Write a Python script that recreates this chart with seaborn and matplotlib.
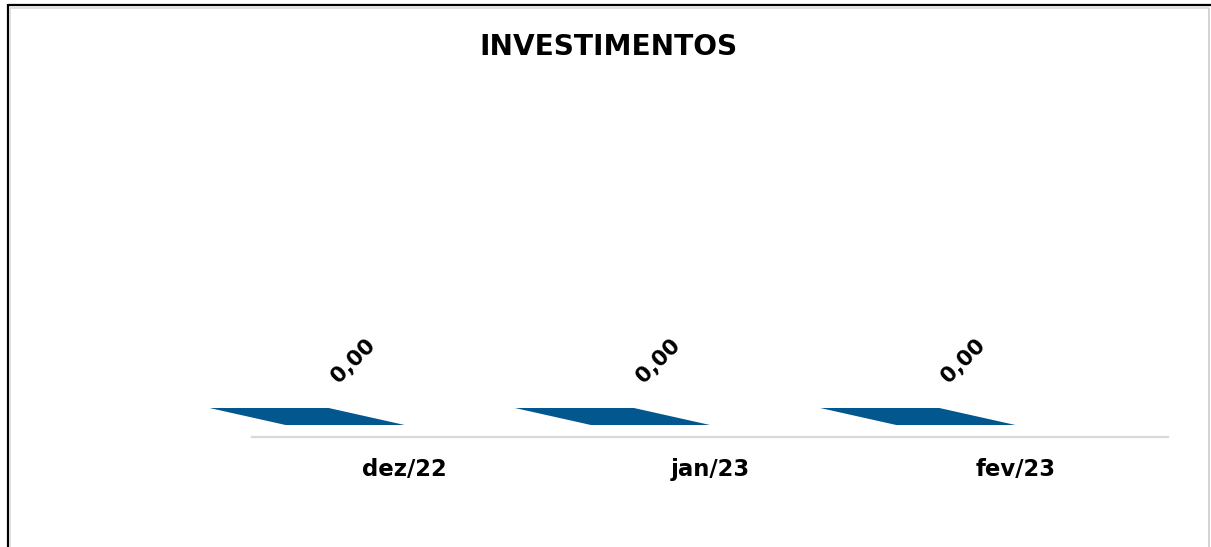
import matplotlib
matplotlib.use("Agg")
import matplotlib.pyplot as plt
import seaborn as sns
import numpy as np
from matplotlib.patches import Polygon
from matplotlib.lines import Line2D

# ---- data ----
title = "INVESTIMENTOS"
months = ["dez/22", "jan/23", "fev/23"]
values = [0.0, 0.0, 0.0]
value_labels = ["0,00", "0,00", "0,00"]

BAR_COLOR = "#03578F"
W, H = 1211, 547
DPI = 100

sns.set_theme(style="white")
plt.rcParams["font.family"] = ["DejaVu Sans"]

fig = plt.figure(figsize=(W / DPI, H / DPI), dpi=DPI)
fig.patch.set_facecolor("white")

def fx(px):
    return px / W

def fy(py):
    return 1 - py / H

# axes: x from 252 to 1168 px, value 0 at y=425 px
ax = fig.add_axes([fx(252), fy(425), fx(1168) - fx(252), fy(100) - fy(425)])
ax.set_facecolor("none")

sns.barplot(x=months, y=values, width=0.39, color=BAR_COLOR, ax=ax)
ax.set_xlim(-0.5, len(months) - 0.5)
ax.set_ylim(0, 1)

# spines / ticks
for s in ["top", "right", "left"]:
    ax.spines[s].set_visible(False)
ax.spines["bottom"].set_position(("outward", 12 * 72 / DPI))
ax.spines["bottom"].set_color("#D9D9D9")
ax.spines["bottom"].set_linewidth(1.6)
ax.set_yticks([])
ax.set_xlabel("")
ax.set_ylabel("")
ax.tick_params(axis="x", length=0, pad=15)
for lab in ax.get_xticklabels():
    lab.set_fontweight("bold")
    lab.set_fontsize(16.4)
    lab.set_color("black")

# 3D-like top faces derived from the bar patches
depth_dx, depth_dy = -76, 17  # pixels (back edge offset)
inv = ax.transData.inverted()
for p, lbl in zip(ax.patches, value_labels):
    x0 = p.get_x() - p.get_width() / 2  # perspective shift
    w = p.get_width()
    h = p.get_height()
    fl = ax.transData.transform((x0, h))
    fr = ax.transData.transform((x0 + w, h))
    br = fr + np.array([depth_dx, depth_dy])
    bl = fl + np.array([depth_dx, depth_dy])
    pts = inv.transform(np.array([fl, fr, br, bl]))
    poly = Polygon(pts, closed=True, facecolor=BAR_COLOR, edgecolor="none",
                   clip_on=False, zorder=3)
    ax.add_patch(poly)
    p.set_visible(False)
    ax.annotate(lbl, xy=(x0 + w / 2, h), xytext=(8 * 72 / DPI, 64 * 72 / DPI),
                textcoords="offset points", ha="center", va="center",
                rotation=45, fontsize=15.5, fontweight="bold", color="black",
                annotation_clip=False)

# title
fig.text(fx(608), fy(55), title, ha="center", va="baseline",
         fontsize=20.2, fontweight="bold", color="black")

# frame lines (cell border look)
def line(x0, y0, x1, y1, color, lw):
    fig.add_artist(Line2D([fx(x0), fx(x1)], [fy(y0), fy(y1)], color=color,
                          linewidth=lw, solid_capstyle="butt"))

line(7.5, 4.5, 1211, 4.5, "black", 1.6)
line(7.5, 4, 7.5, 547, "black", 1.6)
line(10.5, 7.5, 1209, 7.5, "#DCDCDC", 1.3)
line(10.5, 7.5, 10.5, 547, "#DCDCDC", 1.3)
line(1208.5, 7.5, 1208.5, 547, "#D0D0D0", 1.3)

fig.savefig("out.png", dpi=DPI, facecolor="white")
